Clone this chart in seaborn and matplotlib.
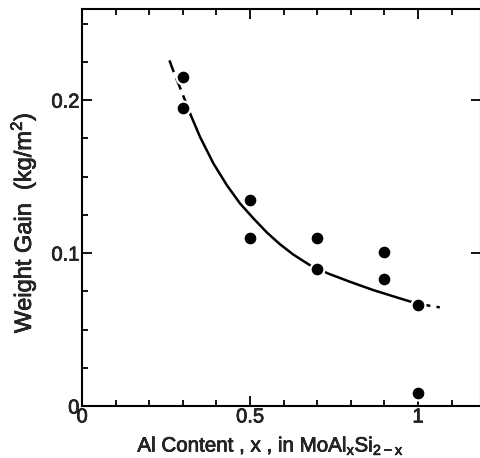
import matplotlib
matplotlib.use("Agg")
import matplotlib.pyplot as plt
import matplotlib.patheffects as pe
import seaborn as sns
import pandas as pd
from matplotlib.ticker import MultipleLocator

# ---------------- DATA ----------------
al_x = [0.3, 0.3, 0.5, 0.5, 0.7, 0.7, 0.9, 0.9, 1.0, 1.0]
weight_gain = [0.215, 0.195, 0.135, 0.110, 0.110, 0.0895, 0.101, 0.083, 0.066, 0.0085]

# fitted curve
curve_x = [0.260, 0.277, 0.292, 0.324, 0.351, 0.391, 0.431, 0.470, 0.510, 0.550,
           0.589, 0.629, 0.679, 0.733, 0.798, 0.867, 0.946, 1.000, 1.065]
curve_y = [0.226, 0.216, 0.208, 0.190, 0.176, 0.1586, 0.1444, 0.1325, 0.1227, 0.1135,
           0.1058, 0.0990, 0.0920, 0.0866, 0.0812, 0.0758, 0.0704, 0.0668, 0.0645]

x_ticks = [0, 0.5, 1]
x_tick_labels = ["0", "0.5", "1"]
y_ticks = [0, 0.1, 0.2]
y_tick_labels = ["0", "0.1", "0.2"]
# --------------------------------------

sns.set_style("ticks")
plt.rcParams["font.family"] = ["Liberation Sans", "DejaVu Sans"]

pts = pd.DataFrame({"x": al_x, "y": weight_gain})
crv = pd.DataFrame({"x": curve_x, "y": curve_y})
head = crv[crv["x"] <= 0.324]
mid = crv[(crv["x"] >= 0.324) & (crv["x"] <= 1.0)]
tail = crv[crv["x"] >= 1.0]

fig = plt.figure(figsize=(4.8, 4.58), dpi=100)
ax = fig.add_axes([0.171, 0.1135, 0.831, 0.8665])

dash = (0, (5, 2.5))
sns.lineplot(data=head, x="x", y="y", color="black", lw=1.8, ls=dash, ax=ax)
sns.lineplot(data=mid, x="x", y="y", color="black", lw=1.8, ax=ax)
sns.lineplot(data=tail, x="x", y="y", color="black", lw=1.8, ls=dash, ax=ax)
sns.scatterplot(data=pts, x="x", y="y", color="black", s=100,
                edgecolor="white", linewidth=1.6, zorder=5, ax=ax)

ax.set_xlim(0, 1.1875)
ax.set_ylim(0, 0.2595)
ax.set_xticks(x_ticks)
ax.set_xticklabels(x_tick_labels)
ax.set_yticks(y_ticks)
ax.set_yticklabels(y_tick_labels)
ax.xaxis.set_minor_locator(MultipleLocator(0.1))
ax.yaxis.set_minor_locator(MultipleLocator(0.025))

ax.tick_params(which="both", direction="in", width=1.3, labelsize=14.5,
               top=True, right=True, color="black")
ax.tick_params(which="major", length=7)
ax.tick_params(which="minor", length=4)
ax.tick_params(axis="x", which="major", pad=1)
ax.tick_params(axis="y", which="major", pad=2)
ax.tick_params(axis="y", which="minor", right=False)
for sp in ax.spines.values():
    sp.set_linewidth(1.5)
    sp.set_color("black")

ax.set_xlabel(r"Al Content , x , in MoAl$_\mathregular{x}$Si$_\mathregular{2-x}$",
              fontsize=14.8)
ax.set_ylabel(r"Weight Gain  (kg/m$^\mathregular{2}$)", fontsize=17)
ax.xaxis.set_label_coords(0.472, -0.072)
ax.yaxis.set_label_coords(-0.11, 0.462)

# scanned print looks a bit heavier than plain regular weight
heavy = [pe.withStroke(linewidth=0.5, foreground="black")]
for t in ax.get_xticklabels() + ax.get_yticklabels() + [ax.xaxis.label, ax.yaxis.label]:
    t.set_path_effects(heavy)

fig.savefig("out.png", dpi=100)
